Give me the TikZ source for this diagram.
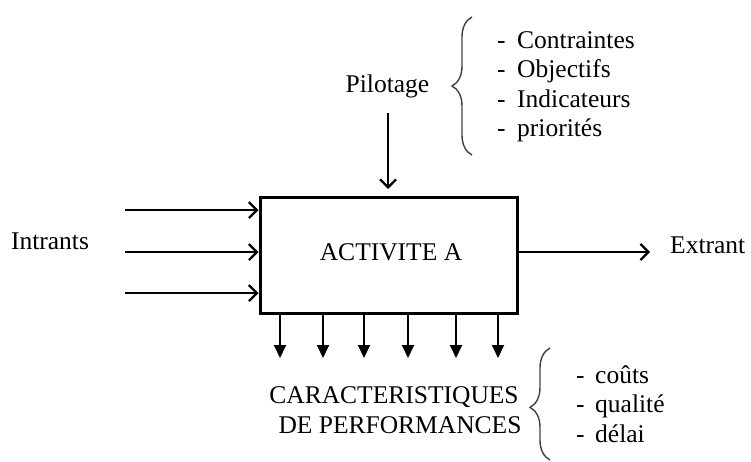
\documentclass[tikz,border=0pt]{standalone}
\usepackage{fontspec}
\setmainfont{Liberation Serif}
\usetikzlibrary{arrows.meta,decorations.pathreplacing}
\begin{document}
\begin{tikzpicture}[x=1pt,y=-1pt,
  lbl/.style={inner sep=0pt,font=\fontsize{25.5}{29}\selectfont},
  actbox/.style={draw,line width=3pt,inner sep=0pt},
  flow/.style={line width=2.3pt,-{Straight Barb[length=8pt,width=16pt,line width=2.3pt]}},
  perf/.style={line width=1.9pt,-{Triangle[length=13pt,width=12pt]}},
  curly/.style={draw,line width=1.4pt,black!75,decorate,decoration={brace,amplitude=20pt,aspect=#1}}
]
\useasboundingbox (0,0) rectangle (751,461);

% central activity box
\node[actbox,minimum width=257pt,minimum height=116pt] (act) at (388.5,255) {};
\node[lbl,anchor=base] (acttxt) at (391,260) {ACTIVITE A};

% inputs
\node[lbl,anchor=base] (intr) at (50,249) {Intrants};
\coordinate (i1) at (125,210);
\coordinate (i2) at (125,252);
\coordinate (i3) at (125,293);
\draw[flow] (i1) -- (i1 -| act.west);
\draw[flow] (i2) -- (i2 -| act.west);
\draw[flow] (i3) -- (i3 -| act.west);

% output
\node[lbl,anchor=base west] (extr) at (670,253) {Extrant};
\draw[flow] (act.east |- 0,252) -- (650,252);

% control
\node[lbl,anchor=base] (pil) at (387.5,92) {Pilotage};
\coordinate (p0) at (388,113);
\coordinate (p1) at (388,189);
\draw[flow,line width=1.9pt] (p0) -- (p1);

% control details
\coordinate (b1s) at (472,155);
\coordinate (b1e) at (472,17);
\draw[curly=0.5] (b1s) -- (b1e);
\foreach \n/\t/\y in {c1/Contraintes/48, c2/Objectifs/77.5, c3/Indicateurs/107, c4/priorités/136.5}{
  \node[lbl,anchor=base west] (\n d) at (497,\y) {-};
  \node[lbl,anchor=base west] (\n) at (517,\y) {\t};
}

% performance outputs
\foreach \x [count=\k] in {280,323,364,408,456,498}{
  \coordinate (q\k) at (\x,358);
  \draw[perf] (q\k |- act.south) -- (q\k);
}
\node[lbl,anchor=base] (car1) at (394,403) {CARACTERISTIQUES};
\node[lbl,anchor=base] (car2) at (400,433) {DE PERFORMANCES};

% performance details
\coordinate (b2s) at (550,460);
\coordinate (b2e) at (550,348);
\draw[curly=0.47] (b2s) -- (b2e);
\foreach \n/\t/\y in {k1/coûts/383, k2/qualité/412.5, k3/délai/442}{
  \node[lbl,anchor=base west] (\n d) at (576,\y) {-};
  \node[lbl,anchor=base west] (\n) at (595,\y) {\t};
}
\end{tikzpicture}
\end{document}
